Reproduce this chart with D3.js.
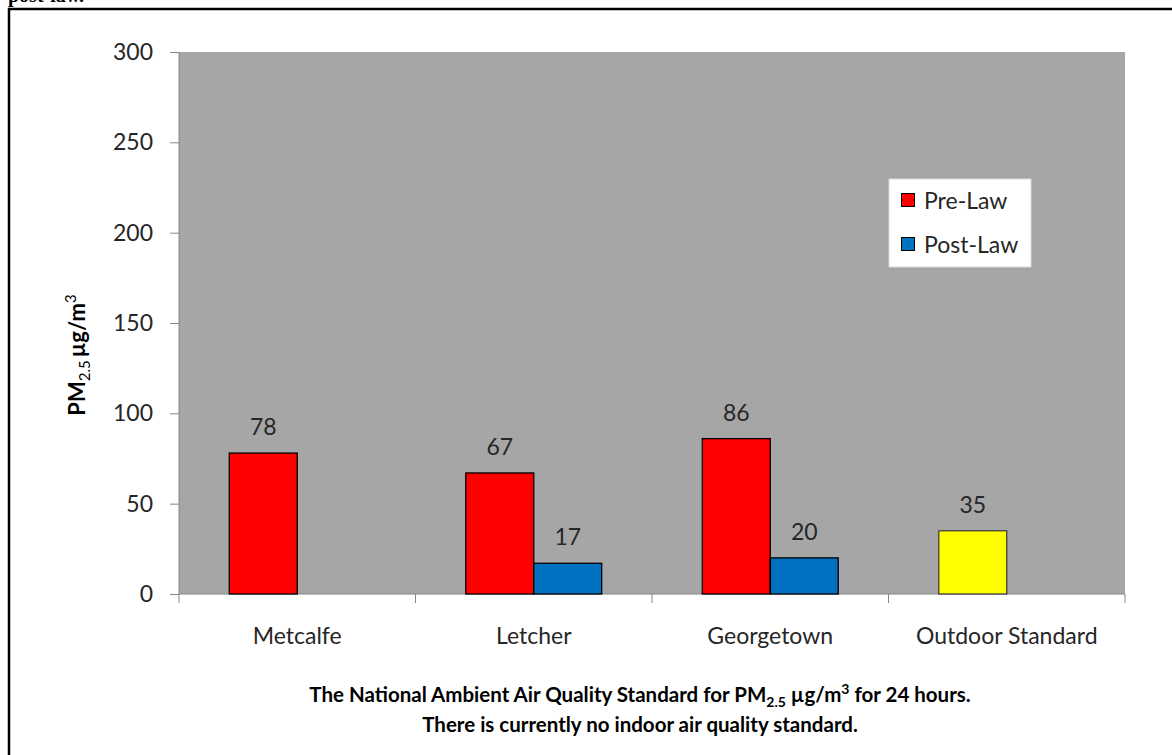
<!DOCTYPE html>
<html lang="en">
<head>
<meta charset="UTF-8">
<title>PM2.5 Pre-Law vs Post-Law</title>
<script src="https://d3js.org/d3.v7.min.js"></script>
<style>
    body, html { margin: 0; padding: 0; background: #fff; overflow: hidden; }
    text { font-family: Lato, "Open Sans", sans-serif; fill: #262626; }
</style>
</head>
<body>
<div id="chart"></div>
<script>
    // Data
    const categories = ["Metcalfe", "Letcher", "Georgetown", "Outdoor Standard"];
    const seriesNames = ["Pre-Law", "Post-Law"];
    const preLaw = [78, 67, 86, 35];
    const postLaw = [null, 17, 20, null];
    const yTicks = [0, 50, 100, 150, 200, 250, 300];

    const width = 1172, height = 755;
    const plot = { left: 179, right: 1125, top: 52, bottom: 594 };
    const fs = "23px";

    const svg = d3.select("#chart").append("svg")
        .attr("width", width)
        .attr("height", height);

    // cropped heading from the page above
    svg.append("text")
        .attr("x", 8).attr("y", 2)
        .style("font-family", "'Liberation Serif', serif")
        .style("font-weight", "bold")
        .style("font-size", "20px")
        .style("fill", "#000")
        .text("post-law.");

    // outer frame
    svg.append("rect")
        .attr("x", 9).attr("y", 9)
        .attr("width", 1300).attr("height", 900)
        .attr("fill", "none")
        .attr("stroke", "#000")
        .attr("stroke-width", 2.5);

    const x = d3.scaleBand().domain(categories).range([plot.left, plot.right]);
    const x1 = d3.scaleBand().domain(seriesNames).range([0, x.bandwidth()]).paddingOuter(0.74).paddingInner(0);
    const y = d3.scaleLinear().domain([0, 300]).range([plot.bottom, plot.top]);

    // plot background
    svg.append("rect")
        .attr("x", plot.left).attr("y", plot.top)
        .attr("width", plot.right - plot.left).attr("height", plot.bottom - plot.top)
        .attr("fill", "#a6a6a6");

    // y axis
    const yAxis = svg.append("g")
        .attr("transform", `translate(${plot.left},0)`)
        .call(d3.axisLeft(y).tickValues(yTicks).tickSize(9).tickPadding(17));
    yAxis.selectAll("line, path").attr("stroke", "#868686");
    yAxis.select(".domain").attr("d", `M0,${plot.top}V${plot.bottom}`);
    yAxis.selectAll("text").style("font-size", fs).style("font-family", "Lato, sans-serif").attr("fill", "#262626");

    // x axis
    const xAxisG = svg.append("g").attr("transform", `translate(0,${plot.bottom})`);
    xAxisG.append("line")
        .attr("x1", plot.left).attr("x2", plot.right)
        .attr("stroke", "#868686");
    xAxisG.selectAll(".tick")
        .data(categories.map(c => x(c)).concat([plot.right]))
        .join("line")
        .attr("x1", d => d).attr("x2", d => d)
        .attr("y1", 0).attr("y2", 9)
        .attr("stroke", "#868686");
    xAxisG.selectAll(".lab")
        .data(categories)
        .join("text")
        .attr("x", d => x(d) + x.bandwidth() / 2)
        .attr("y", 50)
        .attr("text-anchor", "middle")
        .style("font-size", fs)
        .text(d => d);

    // bars
    const colorPre = (i) => categories[i] === "Outdoor Standard" ? "#ffff00" : "#ff0000";
    const bars = [];
    categories.forEach((c, i) => {
        if (preLaw[i] != null) bars.push({ cat: c, s: "Pre-Law", v: preLaw[i], fill: colorPre(i) });
        if (postLaw[i] != null) bars.push({ cat: c, s: "Post-Law", v: postLaw[i], fill: "#0070c0" });
    });

    svg.append("g").selectAll("rect")
        .data(bars)
        .join("rect")
        .attr("x", d => x(d.cat) + x1(d.s))
        .attr("y", d => y(d.v))
        .attr("width", x1.bandwidth())
        .attr("height", d => y(0) - y(d.v))
        .attr("fill", d => d.fill)
        .attr("stroke", d => d.fill === "#ffff00" ? "#404040" : "#000")
        .attr("stroke-width", 1.3);

    svg.append("g").selectAll("text")
        .data(bars)
        .join("text")
        .attr("x", d => x(d.cat) + x1(d.s) + x1.bandwidth() / 2)
        .attr("y", d => y(d.v) - 18)
        .attr("text-anchor", "middle")
        .style("font-size", fs)
        .text(d => d.v);

    // y axis title
    const yt = svg.append("text")
        .attr("transform", `translate(85,355) rotate(-90)`)
        .attr("text-anchor", "middle")
        .style("font-size", "22px")
        .style("font-weight", "bold")
        .style("fill", "#000");
    yt.append("tspan").text("PM");
    yt.append("tspan").attr("dy", 5).style("font-size", "15px").style("font-weight", "normal").text("2.5");
    yt.append("tspan").attr("dy", -5).attr("dx", 3).text("µg/m");
    yt.append("tspan").attr("dy", -9).style("font-size", "15px").style("font-weight", "normal").text("3");

    // legend
    const legend = svg.append("g").attr("transform", "translate(889,179)");
    legend.append("rect")
        .attr("width", 142).attr("height", 88)
        .attr("fill", "#fff").attr("stroke", "#d9d9d9");
    const legendColors = ["#ff0000", "#0070c0"];
    seriesNames.forEach((s, i) => {
        legend.append("rect")
            .attr("x", 12.5).attr("y", 14.5 + i * 44)
            .attr("width", 13).attr("height", 13)
            .attr("fill", legendColors[i]).attr("stroke", "#000");
        legend.append("text")
            .attr("x", 35).attr("y", 30 + i * 44)
            .style("font-size", fs)
            .text(s);
    });

    // footnote
    const foot = svg.append("text")
        .attr("x", 640).attr("y", 702)
        .attr("text-anchor", "middle")
        .style("font-size", "20.5px")
        .style("font-weight", "bold")
        .style("fill", "#000");
    foot.append("tspan").text("The National Ambient Air Quality Standard for PM");
    foot.append("tspan").attr("dy", 5).style("font-size", "14px").text("2.5");
    foot.append("tspan").attr("dy", -5).text(" µg/m");
    foot.append("tspan").attr("dy", -8).style("font-size", "14px").text("3");
    foot.append("tspan").attr("dy", 8).text(" for 24 hours.");
    svg.append("text")
        .attr("x", 640).attr("y", 732)
        .attr("text-anchor", "middle")
        .style("font-size", "20.5px")
        .style("font-weight", "bold")
        .style("fill", "#000")
        .text("There is currently no indoor air quality standard.");
</script>
</body>
</html>
